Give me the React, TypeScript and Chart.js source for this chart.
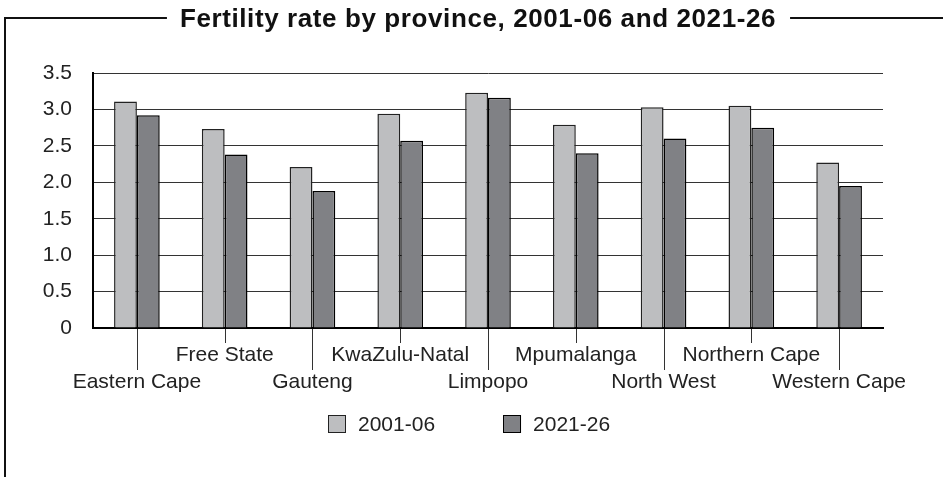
import React, { useEffect, useRef } from 'react';
import { Chart, registerables } from 'chart.js';

Chart.register(...registerables);

const provinces = [
  'Eastern Cape',
  'Free State',
  'Gauteng',
  'KwaZulu-Natal',
  'Limpopo',
  'Mpumalanga',
  'North West',
  'Northern Cape',
  'Western Cape',
];
const series2001_06 = [3.11, 2.73, 2.21, 2.94, 3.23, 2.79, 3.03, 3.05, 2.27];
const series2021_26 = [2.92, 2.38, 1.88, 2.57, 3.16, 2.4, 2.6, 2.75, 1.95];
const seriesNames = ['2001-06', '2021-26'];
const yMin = 0;
const yMax = 3.5;
const yStep = 0.5;
const chartTitle = 'Fertility rate by province, 2001-06 and 2021-26';

const FONT = '"Liberation Sans", Arial, Helvetica, sans-serif';

const decorPlugin = {
  id: 'decor',
  afterDraw(chart: any) {
    const ctx: CanvasRenderingContext2D = chart.ctx;
    const area = chart.chartArea;
    const xScale = chart.scales.x;
    ctx.save();

    // tick connector lines (staggered)
    ctx.strokeStyle = '#333';
    ctx.lineWidth = 1;
    provinces.forEach((_, i) => {
      const x = Math.round(xScale.getPixelForValue(i)) + 0.5;
      const len = i % 2 === 0 ? 42 : 15;
      ctx.beginPath();
      ctx.moveTo(x, area.bottom + 1);
      ctx.lineTo(x, area.bottom + len);
      ctx.stroke();
    });

    // title
    ctx.font = `bold 26px ${FONT}`;
    (ctx as any).letterSpacing = '0.6px';
    ctx.fillStyle = '#111';
    ctx.textAlign = 'left';
    ctx.textBaseline = 'alphabetic';
    const tw = ctx.measureText(chartTitle).width;
    const cx = 478;
    const tx = cx - tw / 2;
    ctx.fillText(chartTitle, tx, 27);
    (ctx as any).letterSpacing = '0px';

    // frame
    ctx.strokeStyle = '#111';
    ctx.lineWidth = 2;
    ctx.beginPath();
    ctx.moveTo(5, chart.height);
    ctx.lineTo(5, 18);
    ctx.lineTo(tx - 13, 18);
    ctx.moveTo(tx + tw + 14, 18);
    ctx.lineTo(chart.width, 18);
    ctx.stroke();

    // legend
    ctx.font = `21px ${FONT}`;
    ctx.textBaseline = 'middle';
    const box = 18;
    const gap = 12;
    const spacing = 68;
    const items = chart.data.datasets.map((ds: any) => ({
      label: ds.label,
      fill: ds.backgroundColor,
      stroke: ds.borderColor,
      w: box + gap + ctx.measureText(ds.label).width,
    }));
    const total = items.reduce((s: number, it: any) => s + it.w, 0) + spacing * (items.length - 1);
    let lx = Math.round(469.5 - total / 2);
    const ly = 424;
    items.forEach((it: any) => {
      ctx.fillStyle = it.fill;
      ctx.fillRect(lx, ly - box / 2, box, box);
      ctx.strokeStyle = it.stroke;
      ctx.lineWidth = 1;
      ctx.strokeRect(Math.round(lx) + 0.5, Math.round(ly - box / 2) + 0.5, box - 1, box - 1);
      ctx.fillStyle = '#222';
      ctx.fillText(it.label, lx + box + gap, ly + 1);
      lx += it.w + spacing;
    });

    ctx.restore();
  },
};

export default function App() {
  const canvasRef = useRef<HTMLCanvasElement | null>(null);

  useEffect(() => {
    if (!canvasRef.current) return;
    const chart = new Chart(canvasRef.current, {
      type: 'bar',
      data: {
        labels: provinces,
        datasets: [
          {
            label: seriesNames[0],
            data: series2001_06,
            backgroundColor: '#bdbec0',
            borderColor: '#222',
            borderWidth: 1.5,
            categoryPercentage: 0.52,
            barPercentage: 1.0,
          },
          {
            label: seriesNames[1],
            data: series2021_26,
            backgroundColor: '#808185',
            borderColor: '#000',
            borderWidth: 1.5,
            categoryPercentage: 0.52,
            barPercentage: 1.0,
          },
        ],
      },
      options: {
        responsive: false,
        animation: false,
        layout: { padding: { top: 73, right: 60, bottom: 0, left: 0 } },
        plugins: {
          legend: { display: false },
          title: { display: false },
          tooltip: { enabled: false },
        },
        scales: {
          x: {
            grid: { display: false, drawTicks: false },
            border: { display: true, color: '#000', width: 2 },
            ticks: {
              autoSkip: false,
              maxRotation: 0,
              minRotation: 0,
              padding: 13.5,
              color: '#222',
              font: { family: FONT, size: 21, lineHeight: 27 / 21 },
              callback: (_v: any, i: number) => (i % 2 === 0 ? ['', provinces[i]] : provinces[i]),
            },
            afterFit: (s: any) => {
              s.height = 149;
            },
          },
          y: {
            min: yMin,
            max: yMax,
            grid: { color: '#333', lineWidth: 1, drawTicks: false },
            border: { display: true, color: '#000', width: 2 },
            ticks: {
              stepSize: yStep,
              padding: 21,
              color: '#222',
              font: { family: FONT, size: 21 },
              callback: (v: any) => (Number(v) === 0 ? '0' : Number(v).toFixed(1)),
            },
            afterFit: (s: any) => {
              s.width = 93;
            },
          },
        },
      },
      plugins: [decorPlugin],
    });
    return () => chart.destroy();
  }, []);

  return (
    <div style={{ position: 'fixed', left: 0, top: 0, width: 943, height: 477, background: '#fff' }}>
      <canvas ref={canvasRef} width={943} height={477} />
    </div>
  );
}
